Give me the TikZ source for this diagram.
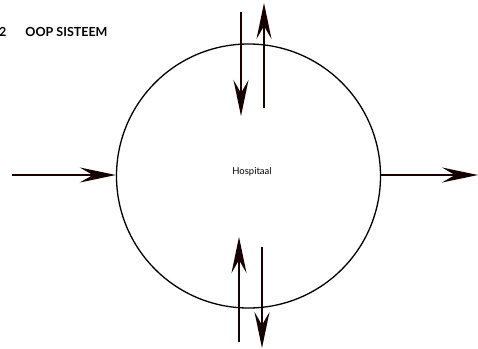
\documentclass[tikz,border=0pt]{standalone}
\usepackage{fontspec}
\setmainfont{Lato}
\usetikzlibrary{arrows.meta}
\begin{document}
\begin{tikzpicture}[x=1pt,y=-1pt,
    flow/.style={-{Stealth[length=36pt,width=15pt,inset=13pt]},line width=2pt,black!85!red!60!black}]
    \useasboundingbox (0,0) rectangle (478,348);
    % titel
    \node[anchor=base west,inner sep=0pt,font=\bfseries\fontsize{12.5}{14}\selectfont] (titel) at (-1,36) {2\hspace{19pt}OOP SISTEEM};
    % stelsel
    \node[draw,circle,line width=1.3pt,minimum size=264pt,inner sep=0pt] (stelsel) at (248.5,176) {};
    \node[font=\fontsize{9.5}{11}\selectfont] (hosp) at (252,172) {Hospitaal};
    % in- en uitsette
    \coordinate (inL) at (12,175);
    \coordinate (uitR) at (478,175);
    \coordinate (top1a) at (241,12);   \coordinate (top1b) at (241,116);
    \coordinate (top2a) at (264,108);  \coordinate (top2b) at (264,3);
    \coordinate (bot1a) at (239,342);  \coordinate (bot1b) at (239,237);
    \coordinate (bot2a) at (262,247);  \coordinate (bot2b) at (262,348);
    \draw[flow] (inL) -- (inL -| stelsel.west);
    \draw[flow] (uitR -| stelsel.east) -- (uitR);
    \draw[flow] (top1a) -- (top1b);
    \draw[flow] (top2a) -- (top2b);
    \draw[flow] (bot1a) -- (bot1b);
    \draw[flow] (bot2a) -- (bot2b);
\end{tikzpicture}
\end{document}
